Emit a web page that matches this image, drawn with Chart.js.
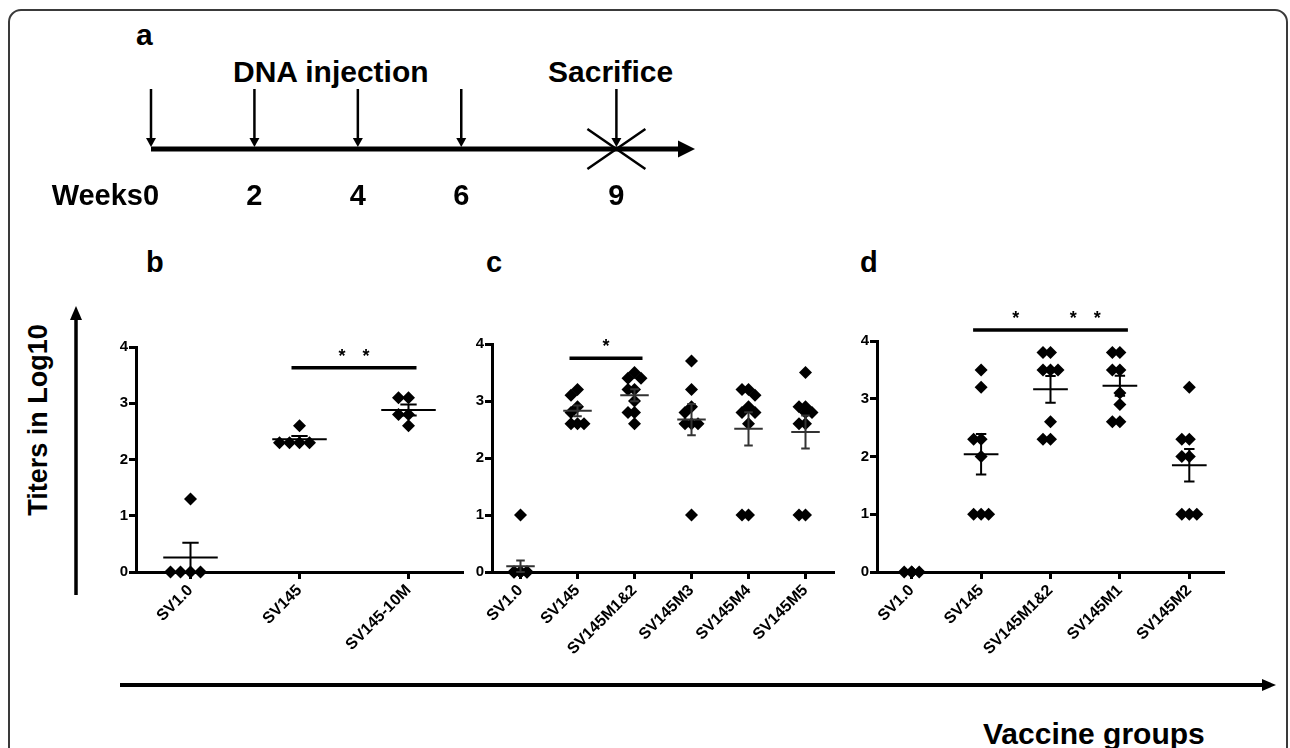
<!DOCTYPE html>
<html><head><meta charset="utf-8">
<script src="https://cdn.jsdelivr.net/npm/chart.js@4.4.0/dist/chart.umd.min.js"></script>
<style>
html,body{margin:0;padding:0;background:#fff;}
body{width:1290px;height:748px;position:relative;overflow:hidden;font-family:"Liberation Sans",Arial,Helvetica,sans-serif;}
.t{position:absolute;font-weight:bold;color:#000;white-space:nowrap;line-height:1;}
canvas{position:absolute;}
</style></head><body>
<svg width="1290" height="748" style="position:absolute;left:0;top:0">
 <rect x="9" y="10" width="1278" height="800" rx="12" ry="12" fill="none" stroke="#3a3a3a" stroke-width="2"/>
 <line x1="76" y1="595" x2="76" y2="318" stroke="#000" stroke-width="3.5"/>
 <polygon points="76,306 70,320 82,320" fill="#000"/>
 <line x1="120" y1="685" x2="1263" y2="685" stroke="#000" stroke-width="4"/>
 <polygon points="1276,685 1262,679 1262,691" fill="#000"/>
</svg>
<div class="t" style="left:136px;top:20px;font-size:30px;">a</div>
<div class="t" style="left:233px;top:57px;font-size:30px;">DNA injection</div>
<div class="t" style="left:548px;top:57px;font-size:30px;">Sacrifice</div>
<div class="t" style="left:146px;top:248px;font-size:29px;">b</div>
<div class="t" style="left:486px;top:248px;font-size:29px;">c</div>
<div class="t" style="left:860px;top:248px;font-size:29px;">d</div>
<div class="t" style="left:38px;top:420px;font-size:27px;transform:translate(-50%,-50%) rotate(-90deg);">Titers in Log10</div>
<div class="t" style="left:983px;top:719px;font-size:30px;">Vaccine groups</div>
<canvas id="ca"></canvas>
<canvas id="cb"></canvas>
<canvas id="cc"></canvas>
<canvas id="cd"></canvas>
<script>
// ---------------- data ----------------
const weekTicks = [0, 2, 4, 6, 9];
const weekLabels = ['0', '2', '4', '6', '9'];
const injectionWeeks = [0, 2, 4, 6];
const sacrificeWeeks = [9];

const yTicks = [0, 1, 2, 3, 4];

const groupsB = ['SV1.0', 'SV145', 'SV145-10M'];
const titersB = [
  [1.3, 0, 0, 0, 0],
  [2.6, 2.3, 2.3, 2.3, 2.3],
  [3.1, 3.1, 2.8, 2.8, 2.6]
];
const sigB = [{from: 1, to: 2, y: 3.63, stars: [{a: 1, b: 2, n: 2}]}];

const groupsC = ['SV1.0', 'SV145', 'SV145M1&2', 'SV145M3', 'SV145M4', 'SV145M5'];
const titersC = [
  [1.0, 0, 0, 0, 0, 0, 0, 0, 0, 0],
  [3.2, 3.1, 2.9, 2.8, 2.6, 2.6, 2.6],
  [3.5, 3.4, 3.4, 3.2, 3.2, 3.0, 2.8, 2.8, 2.6],
  [3.7, 3.2, 2.9, 2.8, 2.6, 2.6, 2.6, 1.0],
  [3.2, 3.2, 3.1, 2.9, 2.8, 2.8, 2.6, 1.0, 1.0],
  [3.5, 2.9, 2.9, 2.8, 2.8, 2.6, 2.6, 1.0, 1.0]
];
const sigC = [{from: 1, to: 2, y: 3.75, stars: [{a: 1, b: 2, n: 1}]}];

const groupsD = ['SV1.0', 'SV145', 'SV145M1&2', 'SV145M1', 'SV145M2'];
const titersD = [
  [0, 0, 0, 0],
  [3.5, 3.2, 2.3, 2.3, 2.0, 1.0, 1.0, 1.0],
  [3.8, 3.8, 3.5, 3.5, 3.5, 2.6, 2.3, 2.3],
  [3.8, 3.8, 3.5, 3.5, 3.1, 2.9, 2.6, 2.6],
  [3.2, 2.3, 2.3, 2.0, 2.0, 1.0, 1.0, 1.0]
];
const sigD = [{from: 1, to: 3, y: 4.19, stars: [{a: 1, b: 2, n: 1}, {a: 2, b: 3, n: 2}]}];

// ---------------- helpers ----------------
const FAMILY = "'Liberation Sans', Arial, Helvetica, sans-serif";
Chart.defaults.font.family = FAMILY;

function swarm(values, pxPerUnit, step, maxK) {
  const placed = [];
  const cand = [0];
  for (let k = 1; k <= maxK; k++) cand.push(-k, k);
  return values.map(v => {
    const y = v * pxPerUnit;
    const count = k => placed.filter(p => p.k === k && Math.abs(p.y - y) < 10).length;
    let chosen = cand.find(k => count(k) === 0);
    if (chosen === undefined) {
      let best = 0, bestN = Infinity;
      cand.forEach(k => { const n = count(k); if (n < bestN) { bestN = n; best = k; } });
      chosen = best;
    }
    placed.push({y, k: chosen});
    return chosen * step;
  });
}

function stats(vals) {
  const n = vals.length;
  const m = vals.reduce((a, b) => a + b, 0) / n;
  const sd = n > 1 ? Math.sqrt(vals.reduce((a, b) => a + (b - m) * (b - m), 0) / (n - 1)) : 0;
  return {mean: m, sem: sd / Math.sqrt(n)};
}

// ---------------- timeline (panel a) ----------------
const timelinePlugin = {
  id: 'timeline',
  afterDraw(chart) {
    const {ctx, chartArea: ca, scales: {x}} = chart;
    const y0 = ca.bottom;
    ctx.save();
    ctx.fillStyle = '#000'; ctx.strokeStyle = '#000';
    const xs = x.getPixelForValue(0), xe = ca.right;
    ctx.lineWidth = 5;
    ctx.beginPath(); ctx.moveTo(xs, y0); ctx.lineTo(xe - 15, y0); ctx.stroke();
    ctx.beginPath(); ctx.moveTo(xe, y0); ctx.lineTo(xe - 17, y0 - 8.5); ctx.lineTo(xe - 17, y0 + 8.5); ctx.closePath(); ctx.fill();
    injectionWeeks.concat(sacrificeWeeks).forEach(w => {
      const px = x.getPixelForValue(w);
      ctx.lineWidth = 2.5;
      ctx.beginPath(); ctx.moveTo(px, ca.top); ctx.lineTo(px, y0 - 10); ctx.stroke();
      ctx.beginPath(); ctx.moveTo(px - 5, y0 - 11); ctx.lineTo(px + 5, y0 - 11); ctx.lineTo(px, y0 - 2); ctx.closePath(); ctx.fill();
    });
    sacrificeWeeks.forEach(w => {
      const px = x.getPixelForValue(w);
      ctx.lineWidth = 2.5;
      ctx.beginPath();
      ctx.moveTo(px - 29, y0 - 20); ctx.lineTo(px + 29, y0 + 20);
      ctx.moveTo(px - 29, y0 + 20); ctx.lineTo(px + 29, y0 - 20);
      ctx.stroke();
    });
    ctx.font = "bold 29px " + FAMILY;
    ctx.textBaseline = 'alphabetic';
    ctx.textAlign = 'center';
    weekTicks.forEach((w, i) => ctx.fillText(weekLabels[i], x.getPixelForValue(w), y0 + 56));
    ctx.textAlign = 'right';
    ctx.fillText('Weeks', x.getPixelForValue(weekTicks[0]) - 8, y0 + 56);
    ctx.restore();
  }
};

(function () {
  const cv = document.getElementById('ca');
  cv.width = 720; cv.height = 230;
  cv.style.left = '0px'; cv.style.top = '0px';
  new Chart(cv, {
    type: 'scatter',
    data: {datasets: [{data: weekTicks.map(w => ({x: w, y: 0})), pointRadius: 0}]},
    options: {
      responsive: false, animation: false, events: [],
      layout: {padding: {left: 151, right: 25, top: 89, bottom: 81}},
      plugins: {legend: {display: false}, tooltip: {enabled: false}},
      scales: {
        x: {type: 'linear', display: false, min: 0, max: 10.52},
        y: {type: 'linear', display: false, min: 0, max: 1}
      }
    },
    plugins: [timelinePlugin]
  });
})();

// ---------------- scatter panels ----------------
function makePanel(id, rect, groups, titers, sig, step, maxK, lineColor) {
  const n = groups.length;
  const plotW = rect.R - rect.L, plotH = rect.B - rect.T;
  const catW = plotW / n;
  const pxPerUnit = plotH / 4;
  const pts = [];
  titers.forEach((vals, gi) => {
    const offs = swarm(vals, pxPerUnit, step, maxK);
    vals.forEach((v, j) => pts.push({x: gi + offs[j] / catW, y: v}));
  });
  const st = titers.map(stats);

  const meanPlugin = {
    id: 'meanSem',
    afterDatasetsDraw(chart) {
      const {ctx, scales: {x, y}} = chart;
      ctx.save();
      ctx.strokeStyle = lineColor; ctx.lineWidth = 2;
      st.forEach((s, i) => {
        const cx = x.getPixelForValue(i);
        const halfW = catW * 0.25, capW = catW * 0.075;
        const ym = y.getPixelForValue(s.mean);
        const yh = y.getPixelForValue(s.mean + s.sem);
        const yl = y.getPixelForValue(Math.max(0, s.mean - s.sem));
        ctx.beginPath();
        ctx.moveTo(cx - halfW, ym); ctx.lineTo(cx + halfW, ym);
        ctx.moveTo(cx, yh); ctx.lineTo(cx, yl);
        ctx.moveTo(cx - capW, yh); ctx.lineTo(cx + capW, yh);
        ctx.moveTo(cx - capW, yl); ctx.lineTo(cx + capW, yl);
        ctx.stroke();
      });
      ctx.restore();
    },
    afterDraw(chart) {
      const {ctx, scales: {x, y}} = chart;
      ctx.save();
      ctx.strokeStyle = '#000'; ctx.fillStyle = '#000';
      sig.forEach(s => {
        const by = y.getPixelForValue(s.y);
        ctx.lineWidth = 3.5;
        ctx.beginPath();
        ctx.moveTo(x.getPixelForValue(s.from) - 8, by);
        ctx.lineTo(x.getPixelForValue(s.to) + 8, by);
        ctx.stroke();
        ctx.font = "bold 18px " + FAMILY;
        ctx.textAlign = 'center'; ctx.textBaseline = 'alphabetic';
        s.stars.forEach(g => {
          const cx = (x.getPixelForValue(g.a) + x.getPixelForValue(g.b)) / 2;
          for (let k = 0; k < g.n; k++) {
            ctx.fillText('*', cx + (k - (g.n - 1) / 2) * 24, by - 6);
          }
        });
      });
      ctx.restore();
    }
  };

  const cv = document.getElementById(id);
  const cl = rect.L - 60, ct = rect.T - 110;
  cv.width = plotW + 80; cv.height = plotH + 210;
  cv.style.left = cl + 'px'; cv.style.top = ct + 'px';
  const xFont = {size: 16, weight: 'bold', family: FAMILY};
  const yFont = {size: 15, weight: 'bold', family: FAMILY};
  const grid = {display: true, drawOnChartArea: false, drawTicks: true, tickLength: 7, tickWidth: 3, tickColor: '#000'};
  const border = {display: true, color: '#000', width: 3};
  new Chart(cv, {
    type: 'scatter',
    data: {datasets: [{
      data: pts, pointStyle: 'rectRot', pointRadius: 6.5, pointHoverRadius: 6.5,
      backgroundColor: '#000', borderColor: '#000', borderWidth: 0, clip: false
    }]},
    options: {
      responsive: false, animation: false, events: [],
      layout: {padding: {left: 20, top: 110, right: 20, bottom: 0}},
      plugins: {legend: {display: false}, tooltip: {enabled: false}},
      scales: {
        x: {
          type: 'linear', min: -0.5, max: n - 0.5,
          afterBuildTicks: s => { s.ticks = groups.map((g, i) => ({value: i})); },
          afterFit: s => { s.height = 100; },
          ticks: {callback: v => groups[v], autoSkip: false, minRotation: 45, maxRotation: 45,
                  color: '#000', font: xFont, padding: 2},
          grid: grid, border: border
        },
        y: {
          type: 'linear', min: 0, max: 4,
          afterBuildTicks: s => { s.ticks = yTicks.map(v => ({value: v})); },
          afterFit: s => { s.width = 40; },
          ticks: {color: '#000', font: yFont, padding: 1},
          grid: grid, border: border
        }
      }
    },
    plugins: [meanPlugin]
  });
}

makePanel('cb', {L: 136, T: 347, R: 463, B: 572}, groupsB, titersB, sigB, 10, 2, '#000');
makePanel('cc', {L: 492, T: 344, R: 834, B: 572}, groupsC, titersC, sigC, 6.5, 1, '#333');
makePanel('cd', {L: 877, T: 341, R: 1224, B: 572}, groupsD, titersD, sigD, 7.5, 1, '#000');
</script>
</body></html>
